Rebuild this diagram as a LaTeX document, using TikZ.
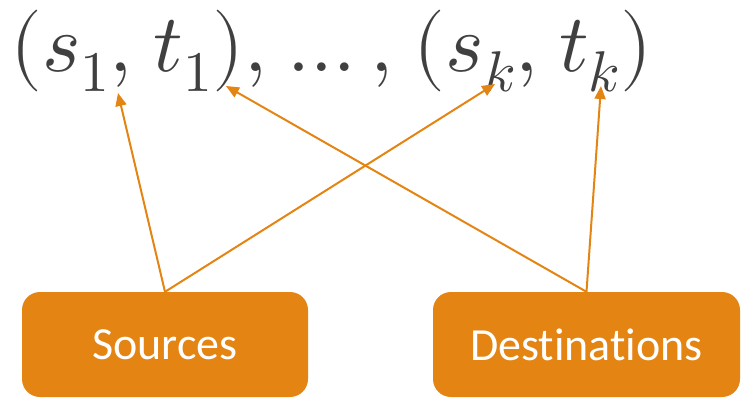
\documentclass[tikz,border=0pt]{standalone}
\usepackage{fontspec}
\usepackage{unicode-math}
\setmainfont{Carlito}[Ligatures={NoCommon}]
\setmathfont{Latin Modern Math}
\usetikzlibrary{arrows.meta,positioning}
\definecolor{boxorange}{HTML}{E48413}
\definecolor{textgray}{HTML}{404040}

\begin{document}
\begin{tikzpicture}[
  x=1pt,y=-1pt,
  box/.style={fill=boxorange,rounded corners=18pt,text=white,align=center,
    minimum height=105pt,font=\fontsize{46}{50}\selectfont},
  link/.style={draw=boxorange,line width=2pt,-{Triangle[length=13pt,width=11pt]}}]
\useasboundingbox (0,0) rectangle (753,399);
\node[anchor=base west,inner sep=0pt,text=textgray,font=\fontsize{82}{86}\selectfont] (pairs) at (10,71)
  {$(s_1,\mkern1.6mu t_1),\mkern1.6mu\ldots,\mkern1.6mu(s_k,\mkern1.6mu t_k)$};
\node[box,minimum width=286pt] (src) at (165,344.5) {Sources};
\node[box,minimum width=307pt] (dst) at (586.5,344.5) {Destinations};
% arrow tips below the pairs
\coordinate (s1) at (118,93);
\coordinate (t1) at (226,86);
\coordinate (sk) at (495,84);
\coordinate (tk) at (601,86);
\draw[link] (src.north) -- (s1);
\draw[link] (src.north) -- (sk);
\draw[link] (dst.north) -- (t1);
\draw[link] (dst.north) -- (tk);
\end{tikzpicture}
\end{document}
